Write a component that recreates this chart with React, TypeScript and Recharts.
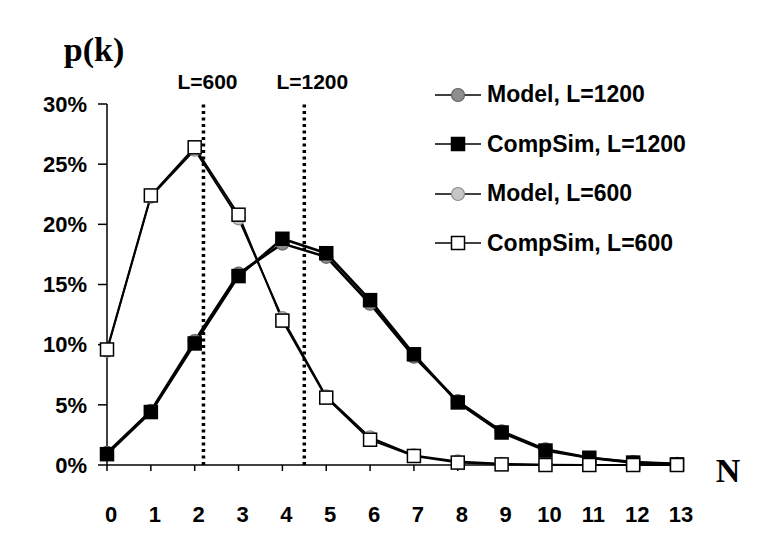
import React from 'react';
import { LineChart, Line, XAxis, YAxis, ReferenceLine, Legend } from 'recharts';

// N (number of ...) on the x axis
const nValues = [0, 1, 2, 3, 4, 5, 6, 7, 8, 9, 10, 11, 12, 13];

// p(k) in percent
const modelL1200 = [1.0, 4.5, 10.3, 15.9, 18.4, 17.3, 13.4, 9.0, 5.3, 2.8, 1.3, 0.6, 0.25, 0.1];
const compSimL1200 = [0.9, 4.4, 10.1, 15.7, 18.8, 17.6, 13.7, 9.2, 5.2, 2.7, 1.2, 0.6, 0.2, 0.05];
const modelL600 = [9.5, 22.3, 26.2, 20.5, 12.2, 5.7, 2.3, 0.8, 0.3, 0.1, 0.03, 0, 0, 0];
const compSimL600 = [9.6, 22.4, 26.4, 20.8, 12.0, 5.6, 2.1, 0.75, 0.2, 0.05, 0, 0, 0, 0];

const yTicks = [0, 5, 10, 15, 20, 25, 30];

// mean N for each L (dotted markers)
const thresholds = [
  { name: 'L=600', n: 2.2 },
  { name: 'L=1200', n: 4.5 },
];

const data = nValues.map((n, i) => ({
  n,
  modelL1200: modelL1200[i],
  compSimL1200: compSimL1200[i],
  modelL600: modelL600[i],
  compSimL600: compSimL600[i],
}));

const SANS = '"Liberation Sans", Arial, sans-serif';
const SERIF = '"Liberation Serif", "Times New Roman", serif';

type Shape = 'circle' | 'square';

const series: { key: string; name: string; shape: Shape; fill: string; stroke: string; width: number }[] = [
  { key: 'modelL1200', name: 'Model, L=1200', shape: 'circle', fill: '#8e8e8e', stroke: '#626262', width: 2.6 },
  { key: 'compSimL1200', name: 'CompSim, L=1200', shape: 'square', fill: '#000', stroke: '#000', width: 2.6 },
  { key: 'modelL600', name: 'Model, L=600', shape: 'circle', fill: '#c6c6c6', stroke: '#8c8c8c', width: 1.9 },
  { key: 'compSimL600', name: 'CompSim, L=600', shape: 'square', fill: '#fff', stroke: '#000', width: 1.9 },
];

// draw circles first so the squares sit on top
const drawOrder = ['modelL1200', 'modelL600', 'compSimL1200', 'compSimL600'];

const tagShift: Record<string, number> = { 'L=600': 4, 'L=1200': 8 };

const Marker = ({ shape, cx, cy, fill, stroke }: any) => {
  if (cx == null || cy == null) return null;
  if (shape === 'square') {
    return <rect x={cx - 6.5} y={cy - 6.5} width={13} height={13} fill={fill} stroke={stroke} strokeWidth={1.5} />;
  }
  return <circle cx={cx} cy={cy} r={6.5} fill={fill} stroke={stroke} strokeWidth={1.2} />;
};

const LineTag = ({ viewBox, text }: any) => (
  <text
    x={viewBox.x + (tagShift[text] || 0)}
    y={viewBox.y - 15}
    textAnchor="middle"
    fontFamily={SANS}
    fontWeight="bold"
    fontSize={21}
    fill="#000"
  >
    {text}
  </text>
);

const YTitle = ({ viewBox }: any) => (
  <text
    x={viewBox.x + viewBox.width - 13}
    y={viewBox.y - 43}
    textAnchor="middle"
    fontFamily={SERIF}
    fontWeight="bold"
    fontSize={34}
    fill="#000"
  >
    p(k)
  </text>
);

const XTitle = ({ viewBox }: any) => (
  <text
    x={viewBox.x + viewBox.width + 51}
    y={viewBox.y + 17}
    textAnchor="middle"
    fontFamily={SERIF}
    fontWeight="bold"
    fontSize={34}
    fill="#000"
  >
    N
  </text>
);

const LegendBox = () => (
  <div>
    {series.map((s) => (
      <div key={s.key} style={{ height: 49.5, display: 'flex', alignItems: 'center' }}>
        <svg width={48} height={20} style={{ display: 'block' }}>
          <line x1={0} y1={10} x2={46} y2={10} stroke="#000" strokeWidth={1.5} />
          <Marker shape={s.shape} cx={23} cy={10} fill={s.fill} stroke={s.stroke} />
        </svg>
        <span
          style={{
            marginLeft: 4,
            fontFamily: SANS,
            fontWeight: 'bold',
            fontSize: 23,
            color: '#000',
            whiteSpace: 'nowrap',
          }}
        >
          {s.name}
        </span>
      </div>
    ))}
  </div>
);

export default function App() {
  const tickStyle = { fill: '#000', fontSize: 22, fontWeight: 'bold', fontFamily: SANS };
  return (
    <div style={{ position: 'absolute', left: 0, top: 0, background: '#fff' }}>
      <LineChart width={777} height={555} data={data} margin={{ top: 104, right: 100, bottom: 10, left: 47 }}>
        <XAxis
          dataKey="n"
          type="number"
          domain={[0, 13]}
          ticks={nValues}
          interval={0}
          height={80}
          tickSize={6}
          tickMargin={35}
          stroke="#000"
          axisLine={{ stroke: '#000', strokeWidth: 1.5 }}
          tickLine={{ stroke: '#000', strokeWidth: 1.5 }}
          tick={{ ...tickStyle, dx: 4 }}
          label={<XTitle />}
        />
        <YAxis
          type="number"
          domain={[0, 30]}
          ticks={yTicks}
          interval={0}
          width={60}
          tickSize={9}
          tickMargin={11}
          stroke="#000"
          axisLine={{ stroke: '#000', strokeWidth: 1.5 }}
          tickLine={{ stroke: '#000', strokeWidth: 1.5 }}
          tick={tickStyle}
          tickFormatter={(v: number) => `${v}%`}
          label={<YTitle />}
        />
        {thresholds.map((t) => (
          <ReferenceLine
            key={t.name}
            x={t.n}
            stroke="#000"
            strokeWidth={3.5}
            strokeDasharray="3 3.5"
            label={<LineTag text={t.name} />}
          />
        ))}
        <Legend
          layout="horizontal"
          verticalAlign="middle"
          align="center"
          wrapperStyle={{ position: 'absolute', left: 435, top: 70, width: 300 }}
          content={() => <LegendBox />}
        />
        {drawOrder.map((key) => {
          const s = series.find((x) => x.key === key)!;
          return (
            <Line
              key={s.key}
              type="linear"
              dataKey={s.key}
              name={s.name}
              stroke="#000"
              strokeWidth={s.width}
              isAnimationActive={false}
              activeDot={false}
              dot={(p: any) => (
                <Marker key={`${s.key}-${p.index}`} shape={s.shape} cx={p.cx} cy={p.cy} fill={s.fill} stroke={s.stroke} />
              )}
            />
          );
        })}
      </LineChart>
    </div>
  );
}
